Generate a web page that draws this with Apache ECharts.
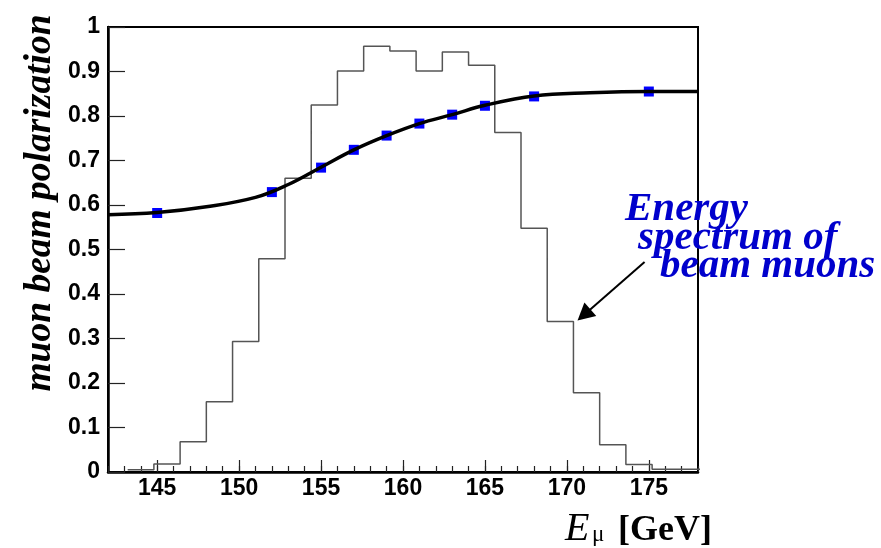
<!DOCTYPE html>
<html>
<head>
<meta charset="utf-8">
<title>muon beam polarization</title>
<script src="https://cdn.jsdelivr.net/npm/echarts@6/dist/echarts.min.js"></script>
<style>
  html, body { margin: 0; padding: 0; background: #fff; }
  #chart { width: 881px; height: 548px; }
</style>
</head>
<body>
<div id="chart"></div>
<script>
// energy spectrum histogram: left bin edges [GeV] and heights (arbitrary units)
var binEdges = [143.2, 144.8, 146.4, 148.0, 149.6, 151.2, 152.8, 154.4, 156.0, 157.6, 159.2,
                160.8, 162.4, 164.0, 165.6, 167.2, 168.8, 170.4, 172.0, 173.6, 175.2, 176.8];
var binValues = [0.005, 0.018, 0.068, 0.158, 0.293, 0.479, 0.660, 0.825, 0.901, 0.957, 0.946,
                 0.901, 0.944, 0.914, 0.763, 0.548, 0.338, 0.178, 0.061, 0.017, 0.006, 0.006];
var binWidth = 1.6;

// polarization points
var pointE = [145, 152, 155, 157, 159, 161, 163, 165, 168, 175];
var pointP = [0.582, 0.629, 0.684, 0.724, 0.756, 0.783, 0.803, 0.823, 0.844, 0.855];

// fitted curve
var curveE = [142, 145, 148, 151, 153, 155, 157, 159, 161, 163, 165, 168, 171.4, 175, 178];
var curveP = [0.578, 0.583, 0.596, 0.617, 0.646, 0.685, 0.724, 0.756, 0.783, 0.803, 0.824, 0.845, 0.852, 0.855, 0.855];

var xTicks = [145, 150, 155, 160, 165, 170, 175];

var histData = binEdges.map(function (e, i) { return [e, binValues[i]]; });
histData.push([binEdges[binEdges.length - 1] + binWidth, binValues[binValues.length - 1]]);
var pointData = pointE.map(function (e, i) { return [e, pointP[i]]; });
var curveData = curveE.map(function (e, i) { return [e, curveP[i]]; });

var labelFont = '"Liberation Sans", Arial, sans-serif';
var serif = '"Liberation Serif", "Times New Roman", serif';

var chart = echarts.init(document.getElementById('chart'));
chart.setOption({
  animation: false,
  backgroundColor: '#fff',
  grid: {
    left: 108, right: 183, top: 27, bottom: 76,
    show: true, borderColor: '#000', borderWidth: 2, backgroundColor: '#fff'
  },
  xAxis: [
    {
      type: 'value', min: 142, max: 178,
      axisLine: { show: true, onZero: false, lineStyle: { color: '#000', width: 2.5 } },
      axisTick: { show: true, inside: true, length: 12, customValues: xTicks, lineStyle: { color: '#222', width: 1.2 } },
      axisLabel: {
        customValues: xTicks, margin: 5,
        color: '#000', fontFamily: labelFont, fontWeight: 'bold', fontSize: 23
      },
      splitLine: { show: false }
    },
    {
      // minor ticks every 1 GeV
      type: 'value', min: 142, max: 178, interval: 1, position: 'bottom',
      axisLine: { show: false },
      axisTick: { show: true, inside: true, length: 6, lineStyle: { color: '#222', width: 1.2 } },
      axisLabel: { show: false },
      splitLine: { show: false }
    }
  ],
  yAxis: {
    type: 'value', min: 0, max: 1, interval: 0.1,
    axisLine: { show: true, onZero: false, lineStyle: { color: '#000', width: 2.5 } },
    axisTick: { show: true, inside: true, length: 17, lineStyle: { color: '#222', width: 1.2 } },
    axisLabel: {
      margin: 8, color: '#000', fontFamily: labelFont, fontWeight: 'bold', fontSize: 23
    },
    splitLine: { show: false }
  },
  series: [
    {
      name: 'spectrum', type: 'line', step: 'end', data: histData,
      showSymbol: false, symbol: 'none', silent: true,
      lineStyle: { color: '#555', width: 1.5 },
      markLine: {
        silent: true,
        symbol: ['none', 'triangle'],
        symbolSize: [18, 17],
        label: { show: false },
        lineStyle: { color: '#000', width: 2, type: 'solid' },
        data: [[{ coord: [174.74, 0.472] }, { coord: [171.04, 0.353] }]]
      },
      z: 2
    },
    {
      name: 'points', type: 'scatter', data: pointData,
      symbol: 'rect', symbolSize: 10,
      itemStyle: { color: '#0000ff', opacity: 1 },
      z: 3
    },
    {
      name: 'fit', type: 'line', data: curveData,
      smooth: 0.4, showSymbol: false, symbol: 'none',
      lineStyle: { color: '#000', width: 3.5 },
      z: 4
    }
  ],
  graphic: [
    {
      type: 'text', x: 40, y: 203, rotation: Math.PI / 2,
      style: {
        text: 'muon beam polarization', font: 'italic bold 37.5px ' + serif,
        fill: '#000', textAlign: 'center', textVerticalAlign: 'middle'
      }
    },
    { type: 'text', x: 625, y: 209, style: { text: 'Energy', font: 'italic bold 41px ' + serif, fill: '#0000cc', textAlign: 'left', textVerticalAlign: 'middle' } },
    { type: 'text', x: 638, y: 238, style: { text: 'spectrum of', font: 'italic bold 41px ' + serif, fill: '#0000cc', textAlign: 'left', textVerticalAlign: 'middle' } },
    { type: 'text', x: 660, y: 266, style: { text: 'beam muons', font: 'italic bold 41px ' + serif, fill: '#0000cc', textAlign: 'left', textVerticalAlign: 'middle' } },
    { type: 'text', x: 565, y: 529.5, style: { text: 'E', font: 'italic 40px ' + serif, fill: '#000', textAlign: 'left', textVerticalAlign: 'middle' } },
    { type: 'text', x: 592, y: 535, style: { text: 'μ', font: '23px ' + serif, fill: '#000', textAlign: 'left', textVerticalAlign: 'middle' } },
    { type: 'text', x: 618, y: 530.5, style: { text: '[GeV]', font: 'bold 36px ' + serif, fill: '#000', textAlign: 'left', textVerticalAlign: 'middle' } }
  ]
});
</script>
</body>
</html>
